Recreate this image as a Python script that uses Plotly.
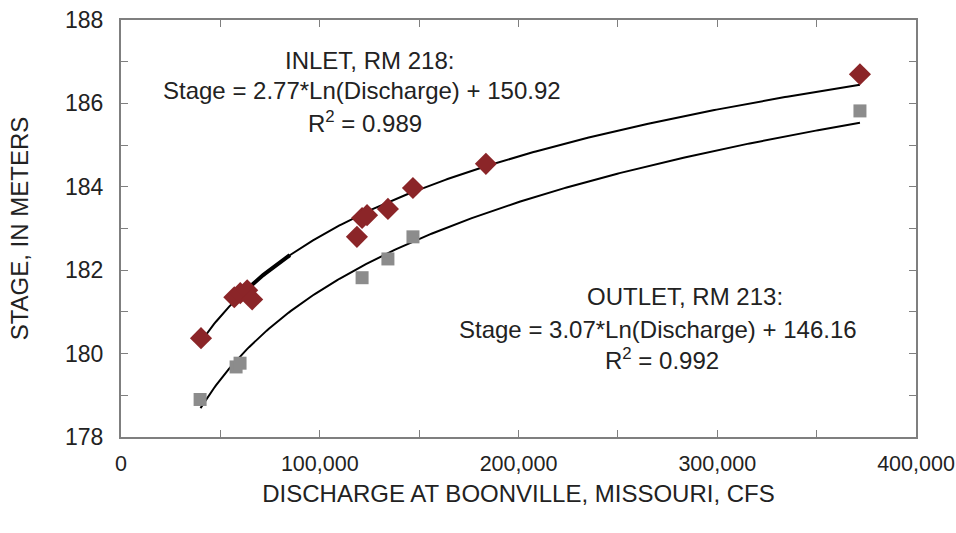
import numpy as np
import plotly.graph_objects as go

# Data
inlet_q = [40250, 57000, 60000, 63500, 66000, 118700, 121300, 123800, 134300, 146900, 183600, 371800]
inlet_stage = [180.37, 181.35, 181.45, 181.52, 181.3, 182.8, 183.25, 183.32, 183.47, 183.97, 184.55, 186.7]

outlet_q = [39800, 57900, 59900, 121300, 134300, 146900, 371800]
outlet_stage = [178.9, 179.68, 179.77, 181.82, 182.27, 182.8, 185.82]

inlet_fit = (2.77, 150.92)
outlet_fit = (3.07, 146.16)
fit_range = (40000, 371800)

x_ticks = [0, 100000, 200000, 300000, 400000]
x_labels = ["0", "100,000", "200,000", "300,000", "400,000"]
y_ticks = [178, 180, 182, 184, 186, 188]

FONT = "Liberation Sans, Arial, sans-serif"
AX = "#7f7f7f"
TXT = "#222222"

xs = np.linspace(fit_range[0], fit_range[1], 300)

fig = go.Figure()
fig.add_trace(go.Scatter(x=xs, y=inlet_fit[0] * np.log(xs) + inlet_fit[1], mode="lines",
                         line=dict(color="black", width=2), hoverinfo="skip"))
xs_thick = np.linspace(62000, 85000, 30)
fig.add_trace(go.Scatter(x=xs_thick, y=inlet_fit[0] * np.log(xs_thick) + inlet_fit[1], mode="lines",
                         line=dict(color="black", width=4), hoverinfo="skip"))
fig.add_trace(go.Scatter(x=xs, y=outlet_fit[0] * np.log(xs) + outlet_fit[1], mode="lines",
                         line=dict(color="black", width=2), hoverinfo="skip"))
fig.add_trace(go.Scatter(x=inlet_q, y=inlet_stage, mode="markers",
                         marker=dict(symbol="diamond", size=17, color="#8b2528", line=dict(width=0))))
fig.add_trace(go.Scatter(x=outlet_q, y=outlet_stage, mode="markers",
                         marker=dict(symbol="square", size=13, color="#8c8c8c", line=dict(width=0))))

ann_font = dict(family=FONT, size=24, color=TXT)
fig.add_annotation(x=124800, y=187.04, text="INLET, RM 218:", showarrow=False, font=ann_font, xanchor="center")
fig.add_annotation(x=121300, y=186.3, text="Stage = 2.77*Ln(Discharge) + 150.92", showarrow=False, font=ann_font, xanchor="center")
fig.add_annotation(x=123000, y=185.55, text="R<sup>2</sup> = 0.989", showarrow=False, font=ann_font, xanchor="center")
fig.add_annotation(x=283800, y=181.36, text="OUTLET, RM 213:", showarrow=False, font=ann_font, xanchor="center")
fig.add_annotation(x=270400, y=180.59, text="Stage = 3.07*Ln(Discharge) + 146.16", showarrow=False, font=ann_font, xanchor="center")
fig.add_annotation(x=272200, y=179.88, text="R<sup>2</sup> = 0.992", showarrow=False, font=ann_font, xanchor="center")

fig.update_layout(
    width=956, height=533,
    margin=dict(l=121, r=40, t=20, b=96),
    plot_bgcolor="white", paper_bgcolor="white",
    showlegend=False,
    font=dict(family=FONT, size=23, color=TXT),
    xaxis=dict(range=[0, 400000], tickvals=x_ticks, ticktext=x_labels,
               ticks="inside", ticklen=7, tickcolor=AX, tickwidth=1,
               minor=dict(dtick=50000, tick0=0, ticks="inside", ticklen=7, tickcolor=AX),
               showline=True, linecolor=AX, linewidth=2, mirror="ticks",
               showgrid=False, zeroline=False, ticklabelstandoff=6,
               ticklabeloverflow="allow", automargin=False,
               title=dict(text="DISCHARGE AT BOONVILLE, MISSOURI, CFS", font=dict(size=24), standoff=10),
               tickfont=dict(size=21.5)),
    yaxis=dict(range=[178, 188], tickvals=y_ticks,
               ticks="inside", ticklen=7, tickcolor=AX, tickwidth=1,
               minor=dict(dtick=1, tick0=178, ticks="inside", ticklen=7, tickcolor=AX),
               showline=True, linecolor=AX, linewidth=2, mirror="ticks",
               showgrid=False, zeroline=False, ticklabelstandoff=11,
               ticklabeloverflow="allow", automargin=False,
               title=dict(text="STAGE, IN METERS", font=dict(size=24), standoff=30),
               tickfont=dict(size=23)),
)

fig.write_html("out.html")
